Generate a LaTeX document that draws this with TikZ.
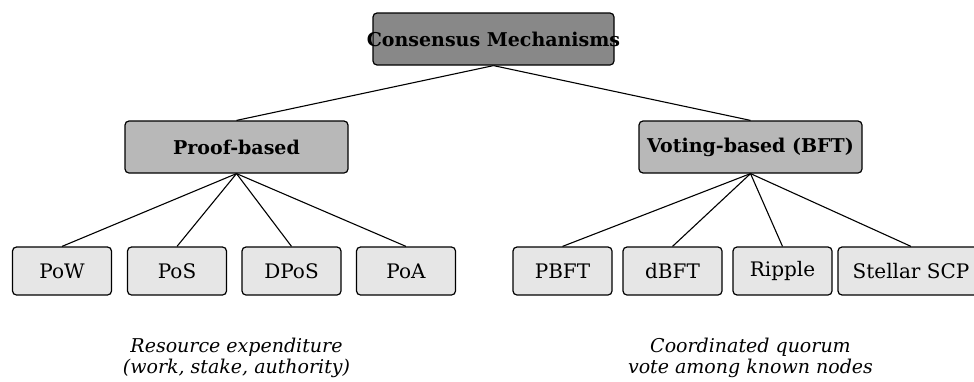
\documentclass[tikz,border=0pt]{standalone}
\usepackage{fontspec}
\setmainfont{DejaVu Serif}
\begin{document}
\begin{tikzpicture}[x=1pt,y=-1pt,
  base/.style={draw=black, line width=1.2pt, rounded corners=4pt, inner sep=0pt},
  topbox/.style={base, fill={rgb,255:red,136;green,136;blue,136}, minimum width=241pt, minimum height=52pt, font=\fontsize{19}{22}\selectfont\bfseries},
  midbox/.style={base, fill={rgb,255:red,184;green,184;blue,184}, minimum width=223pt, minimum height=52pt, font=\fontsize{19}{22}\selectfont\bfseries},
  leafbox/.style={base, fill={rgb,255:red,230;green,230;blue,230}, minimum width=99pt, minimum height=48pt, font=\fontsize{20}{23}\selectfont},
  conn/.style={line width=1.1pt},
  caption/.style={align=center, font=\fontsize{19}{21}\selectfont\itshape}
]
\useasboundingbox (0,0) rectangle (974,381);
\node[topbox] (root) at (493.5,39) {\makebox[0pt]{Consensus Mechanisms}};
\node[midbox] (proof) at (236.5,147) {Proof-based};
\node[midbox] (vote) at (750.5,147) {Voting-based (BFT)};
\node[leafbox] (pow) at (62,271) {PoW};
\node[leafbox] (pos) at (177,271) {PoS};
\node[leafbox] (dpos) at (291.5,271) {DPoS};
\node[leafbox] (poa) at (406,271) {PoA};
\node[leafbox] (pbft) at (562.5,271) {PBFT};
\node[leafbox] (dbft) at (672.5,271) {dBFT};
\node[leafbox] (ripple) at (782.5,271) {Ripple};
\node[leafbox, minimum width=146pt] (scp) at (911,271) {Stellar SCP};
\draw[conn] (root.south) -- (proof.north);
\draw[conn] (root.south) -- (vote.north);
\foreach \n in {pow,pos,dpos,poa} \draw[conn] (proof.south) -- (\n.north);
\foreach \n in {pbft,dbft,ripple,scp} \draw[conn] (vote.south) -- (\n.north);
\node[caption] (capl) at (236.5,358) {Resource expenditure\\(work, stake, authority)};
\node[caption] (capr) at (750.5,358) {Coordinated quorum\\vote among known nodes};
\end{tikzpicture}
\end{document}
